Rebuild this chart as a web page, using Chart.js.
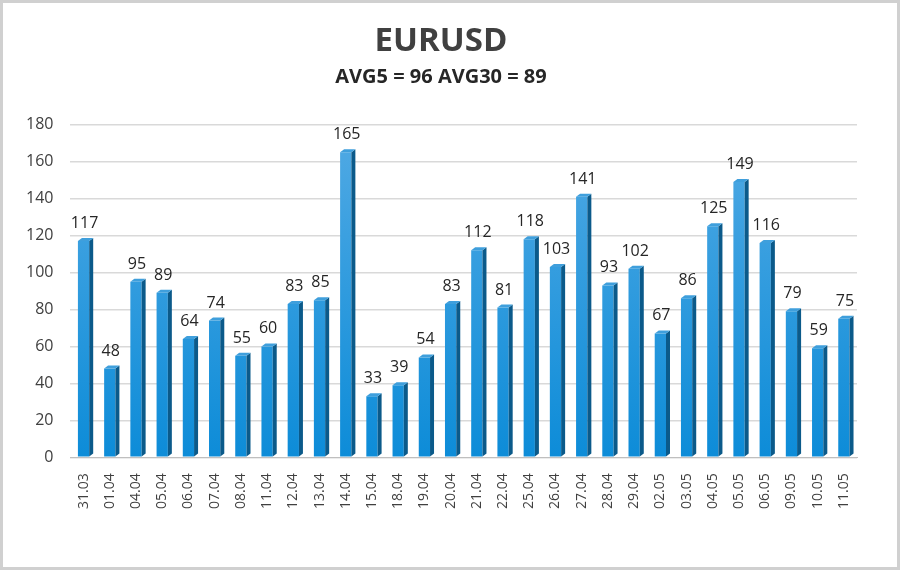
<!DOCTYPE html>
<html>
<head>
<meta charset="utf-8">
<script src="https://cdn.jsdelivr.net/npm/chart.js@4/dist/chart.umd.min.js"></script>
<style>
  html, body { margin: 0; padding: 0; background: #fff; }
  #wrap { width: 900px; height: 570px; }
</style>
</head>
<body>
<div id="wrap"><canvas id="eurChart" width="900" height="570"></canvas></div>
<script>
var days = ["31.03", "01.04", "04.04", "05.04", "06.04", "07.04", "08.04", "11.04", "12.04", "13.04",
            "14.04", "15.04", "18.04", "19.04", "20.04", "21.04", "22.04", "25.04", "26.04", "27.04",
            "28.04", "29.04", "02.05", "03.05", "04.05", "05.05", "06.05", "09.05", "10.05", "11.05"];
var ranges = [117, 48, 95, 89, 64, 74, 55, 60, 83, 85,
              165, 33, 39, 54, 83, 112, 81, 118, 103, 141,
              93, 102, 67, 86, 125, 149, 116, 79, 59, 75];
var yTicks = [0, 20, 40, 60, 80, 100, 120, 140, 160, 180];

// frame round the picture
var framePlugin = {
    id: 'frame',
    beforeDraw: function (chart) {
        var c = chart.ctx;
        c.save();
        c.fillStyle = '#fff';
        c.fillRect(0, 0, chart.width, chart.height);
        c.strokeStyle = '#d0d0d0';
        c.lineWidth = 3;
        c.strokeRect(1.5, 1.5, chart.width - 3, chart.height - 3);
        c.restore();
    }
};

// fake 3d faces + value labels
var bar3dPlugin = {
    id: 'bar3d',
    afterDatasetsDraw: function (chart) {
        var c = chart.ctx;
        var meta = chart.getDatasetMeta(0);
        var d = 4, up = 3;
        c.save();
        meta.data.forEach(function (bar, i) {
            var half = bar.width / 2;
            var l = bar.x - half, r = bar.x + half, t = bar.y, b = bar.base;
            // side
            c.fillStyle = '#0b5a8a';
            c.beginPath();
            c.moveTo(r, t);
            c.lineTo(r + d, t - up);
            c.lineTo(r + d, b - up);
            c.lineTo(r, b);
            c.closePath();
            c.fill();
            // top
            c.fillStyle = '#3f9fdc';
            c.beginPath();
            c.moveTo(l, t);
            c.lineTo(l + d, t - up);
            c.lineTo(r + d, t - up);
            c.lineTo(r, t);
            c.closePath();
            c.fill();
            // label
            c.fillStyle = '#262626';
            c.font = '16px "Open Sans", sans-serif';
            c.textAlign = 'center';
            c.textBaseline = 'alphabetic';
            c.fillText(ranges[i], bar.x + 1, t - 13);
        });
        c.restore();
    }
};

new Chart(document.getElementById("eurChart"), {
    type: 'bar',
    data: {
        labels: days,
        datasets: [{
            data: ranges,
            backgroundColor: function (context) {
                var area = context.chart.chartArea;
                if (!area) return '#1a8fd8';
                var g = context.chart.ctx.createLinearGradient(0, area.top, 0, area.bottom);
                g.addColorStop(0, '#52aae4');
                g.addColorStop(1, '#0d8cd8');
                return g;
            },
            borderWidth: 0,
            barPercentage: 0.43,
            categoryPercentage: 1.0
        }]
    },
    options: {
        responsive: false,
        animation: false,
        layout: { padding: { left: 9, right: 27, top: 16, bottom: 53 } },
        plugins: {
            legend: { display: false },
            tooltip: { enabled: false },
            title: {
                display: true,
                text: 'EURUSD',
                color: '#404040',
                font: { family: '"Open Sans", sans-serif', size: 33, weight: 'bold' },
                padding: { top: 6, bottom: 4 }
            },
            subtitle: {
                display: true,
                text: 'AVG5 = 96 AVG30 = 89',
                color: '#262626',
                font: { family: '"Open Sans", sans-serif', size: 20, weight: 'bold' },
                padding: { top: 0, bottom: 35 }
            }
        },
        scales: {
            x: {
                grid: { display: false },
                border: { color: '#bfbfbf' },
                ticks: {
                    color: '#404040',
                    font: { family: '"Open Sans", sans-serif', size: 14 },
                    minRotation: 90,
                    maxRotation: 90,
                    padding: 8
                }
            },
            y: {
                min: 0,
                max: 180,
                afterBuildTicks: function (axis) {
                    axis.ticks = yTicks.map(function (v) { return { value: v }; });
                },
                grid: { color: '#d9d9d9', lineWidth: 1.5, drawTicks: false },
                border: { display: false },
                ticks: {
                    color: '#404040',
                    font: { family: '"Open Sans", sans-serif', size: 16 },
                    padding: 17
                }
            },
            // empty strip on the right so the title stays centred on the page
            yRight: {
                position: 'right',
                min: 0,
                max: 180,
                grid: { display: false },
                border: { display: false },
                ticks: { display: false },
                afterFit: function (axis) { axis.width = 16; }
            }
        }
    },
    plugins: [framePlugin, bar3dPlugin]
});
</script>
</body>
</html>
